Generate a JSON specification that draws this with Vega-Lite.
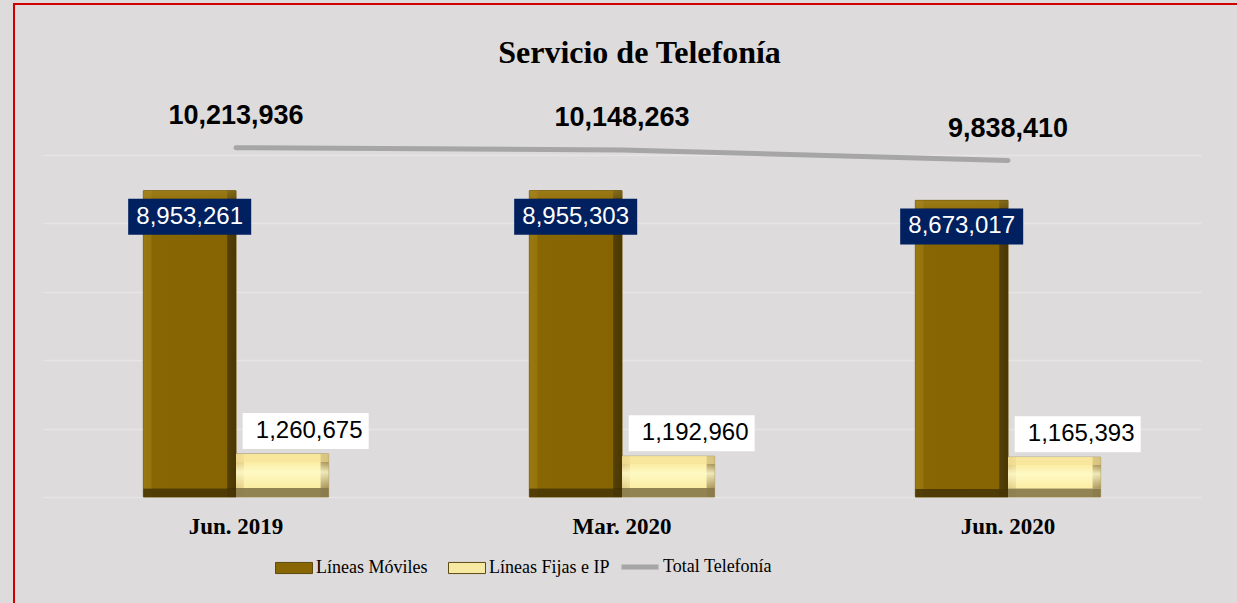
{
  "$schema": "https://vega.github.io/schema/vega-lite/v6.json",
  "width": 1225,
  "height": 601,
  "autosize": {"type": "none"},
  "padding": {"left": 14, "top": 4, "right": -2, "bottom": -2},
  "background": "#dddbdb",
  "config": {
    "view": {"stroke": "#d20000", "strokeWidth": 2, "fill": "#dddbdb"}
  },
  "title": {
    "text": "Servicio de Telefonía",
    "font": "Liberation Serif",
    "fontSize": 32,
    "fontWeight": "bold",
    "color": "#000000",
    "anchor": "middle",
    "dx": 13,
    "offset": -91,
    "baseline": "alphabetic"
  },
  "data": {
    "values": [
      {"periodo": "Jun. 2019", "serie": "Líneas Móviles", "valor": 8953261},
      {"periodo": "Jun. 2019", "serie": "Líneas Fijas e IP", "valor": 1260675},
      {"periodo": "Jun. 2019", "serie": "Total Telefonía", "valor": 10213936},
      {"periodo": "Mar. 2020", "serie": "Líneas Móviles", "valor": 8955303},
      {"periodo": "Mar. 2020", "serie": "Líneas Fijas e IP", "valor": 1192960},
      {"periodo": "Mar. 2020", "serie": "Total Telefonía", "valor": 10148263},
      {"periodo": "Jun. 2020", "serie": "Líneas Móviles", "valor": 8673017},
      {"periodo": "Jun. 2020", "serie": "Líneas Fijas e IP", "valor": 1165393},
      {"periodo": "Jun. 2020", "serie": "Total Telefonía", "valor": 9838410}
    ]
  },
  "encoding": {
    "x": {
      "field": "periodo",
      "type": "nominal",
      "sort": null,
      "scale": {"range": [29, 1187], "paddingInner": 0.52, "paddingOuter": 0.26},
      "axis": {
        "title": null,
        "orient": "bottom",
        "offset": -108,
        "domain": false,
        "ticks": false,
        "grid": false,
        "labelAngle": 0,
        "labelFont": "Liberation Serif",
        "labelFontSize": 23,
        "labelFontWeight": "bold",
        "labelColor": "#000000",
        "labelPadding": 18
      }
    },
    "y": {
      "field": "valor",
      "type": "quantitative",
      "scale": {"domain": [0, 10000000], "range": [493, 151], "nice": false, "zero": true},
      "axis": {
        "title": null,
        "labels": false,
        "ticks": false,
        "domain": false,
        "values": [0, 2000000, 4000000, 6000000, 8000000, 10000000],
        "grid": true,
        "gridColor": "#e6e4e4",
        "gridWidth": 1.5
      }
    }
  },
  "layer": [
    {
      "transform": [{"filter": "datum.serie !== 'Total Telefonía'"}],
      "mark": {"type": "bar", "strokeWidth": 1},
      "encoding": {
        "xOffset": {
          "field": "serie",
          "type": "nominal",
          "scale": {"domain": ["Líneas Móviles", "Líneas Fijas e IP"], "paddingInner": 0, "paddingOuter": 0}
        },
        "color": {
          "field": "serie",
          "type": "nominal",
          "scale": {
            "domain": ["Líneas Móviles", "Líneas Fijas e IP"],
            "range": ["#886603", "#f6e9a3"]
          },
          "legend": {
            "orient": "none",
            "legendX": 261,
            "legendY": 545,
            "direction": "horizontal",
            "title": null,
            "padding": 0,
            "labelFont": "Liberation Serif",
            "labelFontSize": 18,
            "labelColor": "#000000",
            "symbolSize": 1369,
            "labelOffset": 3,
            "columnPadding": 18,
            "symbolType": "M-1,-0.3H1V0.3H-1Z",
            "symbolStrokeColor": "#5e4a10",
            "symbolStrokeWidth": 1,
            "symbolOpacity": 1
          }
        },
        "stroke": {
          "condition": {"test": "datum.serie === 'Líneas Móviles'", "value": "#6b5000"},
          "value": "#b0a068"
        }
      }
    },
    {
      "transform": [{"filter": "datum.serie === 'Líneas Móviles'"}],
      "mark": {
        "type": "bar",
        "strokeWidth": 0,
        "color": {
          "gradient": "linear", "x1": 0, "x2": 1, "y1": 0, "y2": 0,
          "stops": [
            {"offset": 0, "color": "#9a7812"},
            {"offset": 0.085, "color": "#95740c"},
            {"offset": 0.09, "color": "#886603"},
            {"offset": 0.9, "color": "#866402"},
            {"offset": 0.91, "color": "#54400a"},
            {"offset": 1, "color": "#4a3800"}
          ]
        }
      },
      "encoding": {
        "xOffset": {"field": "serie", "type": "nominal"}
      }
    },
    {
      "transform": [{"filter": "datum.serie === 'Líneas Móviles'"}],
      "mark": {
        "type": "bar",
        "strokeWidth": 0,
        "color": {
          "gradient": "linear", "x1": 0, "x2": 0, "y1": 0, "y2": 1,
          "stops": [
            {"offset": 0, "color": "rgba(170,140,40,0.55)"},
            {"offset": 0.025, "color": "rgba(170,140,40,0.35)"},
            {"offset": 0.026, "color": "rgba(0,0,0,0)"},
            {"offset": 0.972, "color": "rgba(0,0,0,0)"},
            {"offset": 0.973, "color": "rgba(70,52,5,0.85)"},
            {"offset": 1, "color": "rgba(70,52,5,0.85)"}
          ]
        }
      },
      "encoding": {
        "xOffset": {"field": "serie", "type": "nominal"}
      }
    },
    {
      "transform": [{"filter": "datum.serie === 'Líneas Fijas e IP'"}],
      "mark": {
        "type": "bar",
        "strokeWidth": 0,
        "color": {
          "gradient": "linear", "x1": 0, "x2": 1, "y1": 0, "y2": 0,
          "stops": [
            {"offset": 0, "color": "#e2cc86"},
            {"offset": 0.085, "color": "#ecd994"},
            {"offset": 0.09, "color": "#fbeea4"},
            {"offset": 0.91, "color": "#fbeea4"},
            {"offset": 0.915, "color": "#b8a56c"},
            {"offset": 1, "color": "#a8955c"}
          ]
        }
      },
      "encoding": {
        "xOffset": {"field": "serie", "type": "nominal"}
      }
    },
    {
      "transform": [{"filter": "datum.serie === 'Líneas Fijas e IP'"}],
      "mark": {
        "type": "bar",
        "strokeWidth": 0,
        "color": {
          "gradient": "linear", "x1": 0, "x2": 0, "y1": 0, "y2": 1,
          "stops": [
            {"offset": 0, "color": "rgba(245,225,150,0.6)"},
            {"offset": 0.19, "color": "rgba(245,225,150,0.6)"},
            {"offset": 0.2, "color": "rgba(255,250,200,0)"},
            {"offset": 0.42, "color": "rgba(255,252,205,0.8)"},
            {"offset": 0.78, "color": "rgba(255,250,200,0)"},
            {"offset": 0.79, "color": "rgba(135,120,75,0.9)"},
            {"offset": 1, "color": "rgba(135,120,75,0.9)"}
          ]
        }
      },
      "encoding": {
        "xOffset": {"field": "serie", "type": "nominal"}
      }
    },
    {
      "transform": [{"filter": "datum.serie === 'Total Telefonía'"}],
      "mark": {"type": "line", "strokeWidth": 5, "strokeCap": "round"},
      "encoding": {
        "stroke": {
          "field": "serie",
          "type": "nominal",
          "scale": {"domain": ["Total Telefonía"], "range": ["#a6a6a6"]},
          "legend": {
            "orient": "none",
            "legendX": 605,
            "legendY": 542,
            "direction": "horizontal",
            "title": null,
            "padding": 0,
            "labelFont": "Liberation Serif",
            "labelFontSize": 18,
            "labelColor": "#000000",
            "symbolSize": 1369,
            "labelOffset": 2,
            "symbolType": "stroke",
            "symbolStrokeWidth": 5,
            "symbolOpacity": 1
          }
        }
      }
    },
    {
      "transform": [{"filter": "datum.serie === 'Líneas Móviles'"}],
      "mark": {"type": "point", "filled": true, "opacity": 1, "shape": "M-1,-0.2927H1V0.2927H-1Z", "size": 15129, "fill": "#002060", "strokeWidth": 0, "yOffset": 26},
      "encoding": {
        "xOffset": {"field": "serie", "type": "nominal"}
      }
    },
    {
      "transform": [{"filter": "datum.serie === 'Líneas Móviles'"}],
      "mark": {"type": "text", "font": "Liberation Sans", "fontSize": 24, "color": "#ffffff", "baseline": "middle", "align": "center", "dy": 26},
      "encoding": {
        "xOffset": {"field": "serie", "type": "nominal"},
        "text": {"field": "valor", "type": "quantitative", "format": ",d"}
      }
    },
    {
      "transform": [{"filter": "datum.serie === 'Líneas Fijas e IP'"}],
      "mark": {"type": "point", "filled": true, "opacity": 1, "shape": "M-1,-0.2857H1V0.2857H-1Z", "size": 15876, "fill": "#ffffff", "strokeWidth": 0, "yOffset": -23},
      "encoding": {
        "x": {"field": "periodo", "type": "nominal", "sort": null, "bandPosition": 0.876}
      }
    },
    {
      "transform": [{"filter": "datum.serie === 'Líneas Fijas e IP'"}],
      "mark": {"type": "text", "font": "Liberation Sans", "fontSize": 24, "color": "#000000", "baseline": "middle", "align": "center", "dy": -23},
      "encoding": {
        "x": {"field": "periodo", "type": "nominal", "sort": null, "bandPosition": 0.895},
        "text": {"field": "valor", "type": "quantitative", "format": ",d"}
      }
    },
    {
      "transform": [{"filter": "datum.serie === 'Total Telefonía'"}],
      "mark": {"type": "text", "font": "Liberation Sans", "fontSize": 27, "fontWeight": "bold", "color": "#000000", "baseline": "alphabetic", "align": "center", "dy": -24},
      "encoding": {
        "text": {"field": "valor", "type": "quantitative", "format": ",d"}
      }
    }
  ]
}
